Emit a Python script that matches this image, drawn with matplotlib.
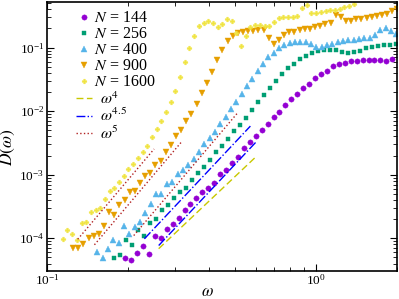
import numpy as np
import matplotlib
matplotlib.use("Agg")
import matplotlib.pyplot as plt
from matplotlib.ticker import LogLocator, NullFormatter

plt.rcParams["font.family"] = "serif"
plt.rcParams["font.serif"] = ["Liberation Serif", "DejaVu Serif"]
plt.rcParams["mathtext.fontset"] = "stix"

# ---- data ----
w_144 = [0.1952, 0.2053, 0.2160, 0.2273, 0.2391, 0.2516, 0.2647, 0.2785, 0.2930, 0.3083,
         0.3243, 0.3412, 0.3590, 0.3777, 0.3974, 0.4181, 0.4398, 0.4628, 0.4869, 0.5123,
         0.5390, 0.5671, 0.5966, 0.6277, 0.6604, 0.6948, 0.7310, 0.7691, 0.8092, 0.8514,
         0.8958, 0.9430, 0.9920, 1.0437, 1.0981, 1.1555, 1.2156, 1.2790, 1.3459, 1.4158,
         1.4898, 1.5674, 1.6490, 1.7350, 1.8255, 1.9205]
D_144 = [4.93e-5, 4.47e-5, 5.97e-5, 7.62e-5, 5.62e-5, 1.08e-4, 1.02e-4, 1.38e-4, 1.65e-4, 2.09e-4,
         2.77e-4, 3.49e-4, 4.28e-4, 5.40e-4, 6.08e-4, 7.48e-4, 1.01e-3, 1.20e-3, 1.51e-3, 1.92e-3,
         2.60e-3, 3.23e-3, 4.04e-3, 5.12e-3, 6.35e-3, 7.98e-3, 9.86e-3, 1.25e-2, 1.53e-2, 1.89e-2,
         2.31e-2, 2.72e-2, 3.29e-2, 3.80e-2, 4.35e-2, 5.08e-2, 5.46e-2, 5.76e-2, 6.08e-2, 6.24e-2,
         6.47e-2, 6.47e-2, 6.43e-2, 6.27e-2, 6.24e-2, 6.50e-2]

w_256 = [0.1780, 0.1873, 0.1972, 0.2076, 0.2185, 0.2300, 0.2423, 0.2545, 0.2679, 0.2813,
         0.2963, 0.3119, 0.3282, 0.3455, 0.3638, 0.3829, 0.4031, 0.4237, 0.4472, 0.4706,
         0.4952, 0.5213, 0.5492, 0.5782, 0.6086, 0.6403, 0.6740, 0.7096, 0.7471, 0.7866,
         0.8269, 0.8719, 0.9180, 0.9672, 1.0156, 1.0690, 1.1256, 1.1850, 1.2453, 1.3110,
         1.3826, 1.4532, 1.5296, 1.6102, 1.6956, 1.7848, 1.8785, 1.9778]
D_256 = [4.93e-5, 5.50e-5, 9.23e-5, 7.79e-5, 1.36e-4, 1.07e-4, 1.77e-4, 2.00e-4, 2.81e-4, 3.37e-4,
         4.35e-4, 5.26e-4, 6.24e-4, 8.22e-4, 1.06e-3, 1.32e-3, 1.68e-3, 2.26e-3, 2.84e-3, 3.62e-3,
         4.81e-3, 6.15e-3, 7.90e-3, 1.06e-2, 1.38e-2, 1.77e-2, 2.34e-2, 3.00e-2, 3.84e-2, 4.77e-2,
         5.56e-2, 6.55e-2, 7.51e-2, 8.28e-2, 8.83e-2, 9.06e-2, 9.23e-2, 9.06e-2, 8.59e-2, 8.37e-2,
         8.53e-2, 8.97e-2, 9.68e-2, 0.1018, 0.1059, 0.1087, 0.1099, 0.1140]

w_400 = [0.1539, 0.1611, 0.1686, 0.1765, 0.1848, 0.1934, 0.2024, 0.2119, 0.2218, 0.2322,
         0.2430, 0.2544, 0.2663, 0.2788, 0.2918, 0.3055, 0.3197, 0.3347, 0.3503, 0.3667,
         0.3839, 0.4018, 0.4206, 0.4403, 0.4609, 0.4825, 0.5050, 0.5286, 0.5534, 0.5793,
         0.6064, 0.6347, 0.6644, 0.6955, 0.7281, 0.7621, 0.7978, 0.8351, 0.8742, 0.9150,
         0.9577, 1.0025, 1.0493, 1.0984, 1.1498, 1.2035, 1.2598, 1.3188, 1.3804, 1.4450,
         1.5126, 1.5834, 1.6574, 1.7350, 1.8160, 1.9011, 1.9898]
D_400 = [6.15e-5, 4.86e-5, 6.71e-5, 9.47e-5, 8.28e-5, 1.58e-4, 1.18e-4, 1.53e-4, 1.79e-4, 2.52e-4,
         3.49e-4, 4.94e-4, 4.99e-4, 7.03e-4, 7.70e-4, 1.01e-3, 1.19e-3, 1.40e-3, 1.77e-3, 2.29e-3,
         3.00e-3, 3.84e-3, 4.72e-3, 6.31e-3, 8.13e-3, 1.07e-2, 1.40e-2, 1.86e-2, 2.48e-2, 3.20e-2,
         4.23e-2, 5.52e-2, 7.03e-2, 8.34e-2, 9.86e-2, 0.109, 0.120, 0.122, 0.122, 0.122,
         0.116, 0.103, 0.102, 0.108, 0.116, 0.121, 0.127, 0.134, 0.133, 0.138,
         0.140, 0.144, 0.158, 0.187, 0.205, 0.181, 0.166]

w_900 = [0.1249, 0.1306, 0.1365, 0.1426, 0.1490, 0.1558, 0.1628, 0.1701, 0.1778, 0.1858,
         0.1942, 0.2029, 0.2121, 0.2216, 0.2316, 0.2420, 0.2529, 0.2643, 0.2762, 0.2886,
         0.3017, 0.3153, 0.3295, 0.3443, 0.3598, 0.3760, 0.3929, 0.4107, 0.4292, 0.4486,
         0.4688, 0.4899, 0.5120, 0.5350, 0.5591, 0.5843, 0.6106, 0.6381, 0.6669, 0.6970,
         0.7283, 0.7612, 0.7954, 0.8312, 0.8688, 0.9080, 0.9489, 0.9917, 1.0363, 1.0830,
         1.1319, 1.1829, 1.2362, 1.2918, 1.3500, 1.4109, 1.4745, 1.5410, 1.6104, 1.6827,
         1.7587, 1.8378, 1.9207, 2.0073]
D_900 = [7.03e-5, 7.03e-5, 8.07e-5, 1.01e-4, 1.10e-4, 1.15e-4, 1.58e-4, 2.58e-4, 2.33e-4, 3.29e-4,
         3.98e-4, 5.26e-4, 5.50e-4, 7.52e-4, 9.71e-4, 1.07e-3, 1.43e-3, 1.64e-3, 2.26e-3, 2.97e-3,
         4.01e-3, 5.12e-3, 7.01e-3, 9.14e-3, 1.28e-2, 1.93e-2, 2.79e-2, 4.13e-2, 6.28e-2, 9.23e-2,
         0.126, 0.152, 0.167, 0.176, 0.182, 0.182, 0.189, 0.187, 0.142, 0.114,
         0.132, 0.156, 0.174, 0.176, 0.187, 0.194, 0.199, 0.211, 0.220, 0.231,
         0.243, 0.323, 0.305, 0.262, 0.262, 0.279, 0.286, 0.294, 0.300, 0.311,
         0.326, 0.340, 0.373, 0.401]

w_1600 = [0.1144, 0.1191, 0.1240, 0.1291, 0.1344, 0.1398, 0.1456, 0.1515, 0.1578, 0.1642,
          0.1710, 0.1780, 0.1852, 0.1929, 0.2007, 0.2090, 0.2175, 0.2265, 0.2357, 0.2454,
          0.2555, 0.2660, 0.2768, 0.2882, 0.3000, 0.3123, 0.3251, 0.3384, 0.3523, 0.3667,
          0.3818, 0.3974, 0.4137, 0.4306, 0.4483, 0.4667, 0.4858, 0.5057, 0.5264, 0.5480,
          0.5705, 0.5939, 0.6182, 0.6435, 0.6699, 0.6973, 0.7260, 0.7557, 0.7867, 0.8190,
          0.8524, 0.8874, 0.9238, 0.9616, 1.0011, 1.0421, 1.0849, 1.1293, 1.1756, 1.2237,
          1.2738, 1.3261, 1.3804]
D_1600 = [9.68e-5, 1.33e-4, 1.18e-4, 9.47e-5, 1.71e-4, 1.79e-4, 2.58e-4, 2.74e-4, 2.98e-4, 4.19e-4,
          5.46e-4, 6.24e-4, 7.57e-4, 9.68e-4, 1.21e-3, 1.50e-3, 1.81e-3, 2.31e-3, 2.82e-3, 3.91e-3,
          5.17e-3, 7.03e-3, 9.68e-3, 1.39e-2, 2.11e-2, 3.47e-2, 5.93e-2, 9.75e-2, 0.155, 0.218,
          0.248, 0.262, 0.242, 0.209, 0.233, 0.286, 0.262, 0.168, 0.107, 0.151,
          0.214, 0.230, 0.230, 0.219, 0.219, 0.253, 0.289, 0.300, 0.300, 0.300,
          0.311, 0.427, 0.463, 0.351, 0.351, 0.364, 0.383, 0.386, 0.386, 0.411,
          0.432, 0.452, 0.481]

# power-law guides: exponent, prefactor, omega range
guide_exp = [4, 4.5, 4.5, 5, 5, 5]
guide_amp = [0.015, 0.073, 0.033, 2.6, 1.04, 0.27]
guide_lo = [0.26, 0.23, 0.26, 0.13, 0.15, 0.21]
guide_hi = [0.60, 0.57, 0.60, 0.25, 0.317, 0.51]

series = [
    (w_144, D_144, "$N$ = 144", "#9400d3", "o", 3.8),
    (w_256, D_256, "$N$ = 256", "#009e73", "s", 3.5),
    (w_400, D_400, "$N$ = 400", "#56b4e9", "^", 4.2),
    (w_900, D_900, "$N$ = 900", "#e69f00", "v", 4.2),
    (w_1600, D_1600, "$N$ = 1600", "#f0e442", "P", 3.4),
]
guide_style = {4: ("#c8c800", (0, (5, 2.5))), 4.5: ("#0000ff", "-."), 5: ("#b22222", ":")}
guide_label = {4: r"$\omega^4$", 4.5: r"$\omega^{4.5}$", 5: r"$\omega^5$"}

fig = plt.figure(figsize=(3.99, 2.99), dpi=100)
ax = fig.add_axes([0.118, 0.095, 0.877, 0.898])

pts = []
for w, d, lab, c, m, ms in series:
    h, = ax.plot(w, d, ls="none", marker=m, ms=ms, color=c, mec=c, mew=0.3, label=lab)
    pts.append(h)

lines = {}
for p, a, lo, hi in zip(guide_exp, guide_amp, guide_lo, guide_hi):
    x = np.geomspace(lo, hi, 30)
    c, ls = guide_style[p]
    h, = ax.plot(x, a * x ** p, color=c, ls=ls, lw=1.0)
    lines.setdefault(p, h)

ax.set_xscale("log")
ax.set_yscale("log")
ax.set_xlim(0.1, 2.0)
ax.set_ylim(3.1e-5, 0.52)
ax.xaxis.set_minor_formatter(NullFormatter())
ax.yaxis.set_minor_locator(LogLocator(base=10, subs=np.arange(2, 10), numticks=20))
ax.yaxis.set_minor_formatter(NullFormatter())
ax.tick_params(which="both", direction="in", top=True, right=True, labelsize=9.5, pad=2)
ax.tick_params(which="major", length=5, width=0.8)
ax.tick_params(which="minor", length=3, width=0.6)
for s in ax.spines.values():
    s.set_linewidth(1.2)

ax.set_xlabel(r"$\omega$", fontsize=12)
ax.xaxis.set_label_coords(0.457, -0.05)
ax.set_ylabel(r"$D(\omega)$", fontsize=12.5)
ax.yaxis.set_label_coords(-0.085, 0.46)

leg1 = ax.legend(handles=pts, loc="upper left", bbox_to_anchor=(0.06, 1.005), frameon=False,
                 fontsize=11.5, handlelength=0.8, handletextpad=0.25, labelspacing=0.0,
                 borderaxespad=0.2)
ax.add_artist(leg1)
ax.legend(handles=[lines[4], lines[4.5], lines[5]], labels=[guide_label[4], guide_label[4.5], guide_label[5]],
          loc="upper left", bbox_to_anchor=(0.055, 0.703), frameon=False, fontsize=11.5,
          handlelength=1.0, handletextpad=0.5, labelspacing=0.0, borderaxespad=0.2)

fig.savefig("out.png", dpi=100)
